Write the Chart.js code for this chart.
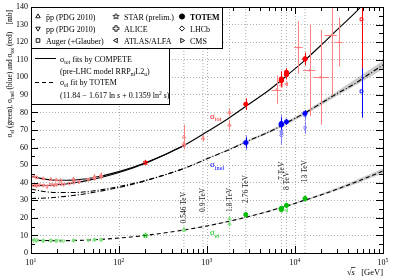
<!DOCTYPE html>
<html>
<head>
<meta charset="utf-8">
<script src="https://cdn.jsdelivr.net/npm/chart.js@4.4.0/dist/chart.umd.min.js"></script>
<style>
html, body { margin: 0; padding: 0; background: #fff; }
</style>
</head>
<body>
<canvas id="c" width="395" height="280" style="width:395px;height:280px"></canvas>
<script>
// ---- fit curves ----
const fitX = [10, 15, 20, 30, 50, 100, 200, 546, 1000, 1800, 2760, 5000, 7000, 8000, 13000, 20000, 30000, 50000, 60000, 100000];
const totFit = [43.7, 41.9, 41.4, 41.5, 42.8, 46.3, 51.3, 61.2, 69.0, 77.0, 83.5, 92.5, 98.3, 100.8, 109.8, 118.5, 127.0, 137.5, 141.8, 153.7];
const inelFit = [36.4, 34.8, 34.4, 34.4, 35.3, 37.8, 41.3, 48.1, 53.6, 58.9, 63.2, 68.8, 72.4, 74.1, 79.7, 85.4, 90.7, 97.0, 99.7, 107.0];
const elFit = [7.3, 7.1, 7.0, 7.1, 7.5, 8.5, 10.0, 13.1, 15.4, 18.1, 20.3, 23.7, 25.9, 26.7, 30.1, 33.1, 36.3, 40.5, 42.1, 46.7];
// pp branch at low energy
const ppFitX = [10, 15, 20, 30, 50, 100, 200, 546];
const ppTotFit = [38.3, 38.4, 38.8, 39.8, 41.9, 45.8, 51.1, 61.1];
const ppInelFit = [31.0, 31.3, 31.8, 32.7, 34.4, 37.3, 41.1, 48.0];
// uncertainty bands
const bandX = [546, 1000, 2760, 7000, 13000, 30000, 100000];
const inelHi = [48.2, 53.95, 63.8, 73.2, 80.7, 92.1, 109.4];
const inelLo = [47.9, 53.25, 62.6, 71.6, 78.7, 89.3, 104.6];
const elHi = [13.15, 15.6, 20.6, 26.3, 30.6, 37.1, 48.1];
const elLo = [13.0, 15.2, 20.0, 25.5, 29.6, 35.5, 45.3];

// ---- sigma_tot data ----
const pbarpTotX = [10.8, 11.6, 13.8, 16.8, 19.4, 21.7, 30.4, 52.6, 62.3, 546, 546, 546, 900, 1800, 1800];
const pbarpTotY = [43.6, 42.9, 42.3, 41.9, 41.6, 41.4, 42.1, 43.3, 44.1, 61.3, 62.2, 66.0, 65.3, 72.8, 80.0];
const pbarpTotE = [0.8, 0.8, 0.6, 0.5, 0.5, 0.6, 0.9, 1.5, 1.8, 0.9, 1.5, 7.0, 1.7, 3.1, 2.2];
const ppTotX = [10.7, 11.5, 12.3, 13.8, 15.2, 16.8, 18.2, 19.4, 21.7, 23.5, 27.4, 30.6, 35, 44.7, 52.8, 62.7];
const ppTotY = [38.6, 38.2, 38.7, 38.5, 37.9, 38.9, 38.6, 38.9, 39.3, 39.0, 39.6, 40.1, 40.5, 41.8, 42.4, 43.6];
const ppTotE = [0.9, 1.0, 0.8, 0.7, 1.2, 0.6, 0.9, 0.6, 1.0, 0.4, 0.5, 0.4, 0.8, 0.5, 0.6, 1.8];
const cosmicTotX = [6200, 10900, 14700, 19500, 26000, 31800];
const cosmicTotY = [93, 117, 104, 100, 124, 120];
const cosmicTotE = [8, 15, 26, 27, 34, 14];
const cosmicTotXLo = [5400, 9800, 12300, 16200, 21700, 28500];
const cosmicTotXHi = [7000, 12200, 17000, 24500, 29800, 34500];
const starTotX = [200], starTotY = [51.5], starTotE = [1.2];
const totemTotX = [2760, 7000, 7000, 7000, 7000, 8000, 8000, 8000, 13000, 13000];
const totemTotY = [84.7, 98.3, 98.6, 99.1, 98.0, 101.7, 101.5, 102.9, 110.6, 110.3];
const totemTotE = [3.3, 2.8, 2.2, 4.3, 2.5, 2.9, 2.1, 2.3, 3.4, 3.5];
const atlasTotX = [7000, 8000], atlasTotY = [95.4, 96.1], atlasTotE = [1.4, 0.9];
const augerTotX = [57000], augerTotY = [133], augerTotLo = [35], augerTotHi = [29];

// ---- sigma_inel data ----
const totemInelX = [2760, 7000, 7000, 7000, 8000, 13000];
const totemInelY = [62.8, 73.2, 72.9, 73.7, 74.7, 79.5];
const totemInelE = [2.9, 1.3, 1.5, 3.4, 1.7, 1.8];
const aliceInelX = [2760, 7000], aliceInelY = [62.8, 73.2], aliceInelE = [4.2, 5.3];
const atlasInelX = [7000, 13000], atlasInelY = [69.4, 78.1], atlasInelE = [7.3, 2.9];
const cmsInelX = [7000, 13000], cmsInelY = [68.0, 71.3], cmsInelE = [5.0, 3.5];
const lhcbInelX = [7000], lhcbInelY = [66.9], lhcbInelE = [5.3];
const augerInelX = [57000], augerInelY = [92], augerInelLo = [15], augerInelHi = [13];

// ---- sigma_el data ----
const ppElX = [10.7, 11.5, 13.8, 16.8, 19.4, 21.7, 23.5, 30.6, 44.7, 52.8, 62.7];
const ppElY = [7.0, 6.8, 6.9, 7.0, 7.0, 6.9, 6.8, 7.1, 7.3, 7.5, 7.6];
const ppElE = [0.3, 0.3, 0.3, 0.2, 0.2, 0.3, 0.2, 0.2, 0.3, 0.3, 0.4];
const pbarpElX = [10.8, 11.7, 13.8, 16.8, 19.4, 30.4, 52.6, 62.3, 546, 546, 1800, 1800];
const pbarpElY = [7.7, 7.3, 7.0, 7.1, 6.9, 7.2, 7.5, 7.5, 13.6, 12.9, 16.6, 19.7];
const pbarpElE = [0.4, 0.4, 0.3, 0.3, 0.3, 0.3, 0.4, 0.4, 0.6, 0.3, 1.6, 0.9];
const starElX = [200], starElY = [10.0], starElE = [0.3];
const totemElX = [2760, 7000, 7000, 7000, 8000, 13000];
const totemElY = [21.8, 25.4, 25.1, 24.8, 27.1, 31.0];
const totemElE = [1.4, 1.1, 1.1, 1.2, 1.4, 1.7];
const atlasElX = [7000, 8000], atlasElY = [24.0, 24.3], atlasElE = [0.6, 0.4];

// ---- energies marked with vertical lines ----
const energyX = [546, 900, 1800, 2760, 7000, 8000, 13000];
const energyLabels = ['0.546 TeV', '0.9 TeV', '1.8 TeV', '2.76 TeV', '7 TeV', '8 TeV', '13 TeV'];

const yTicks = [0, 10, 20, 30, 40, 50, 60, 70, 80, 90, 100, 110, 120, 130, 140];
const xDecades = [1, 2, 3, 4, 5];

const SERIF = '"Liberation Serif", "DejaVu Serif", serif';
const RED = '#ff0000', RED_PALE = '#ff8080';
const BLUE = '#0000ff', BLUE_PALE = '#8080ff';
const GREEN = '#00c000', GREEN_PALE = '#80dd80';

function curve(xs, ys) { return xs.map((x, i) => ({ x: x, y: ys[i] })); }
function pts(xs, ys, lo, hi, xlo, xhi) {
    return xs.map((x, i) => ({
        x: x, y: ys[i],
        lo: ys[i] - lo[i], hi: ys[i] + (hi ? hi[i] : lo[i]),
        xlo: xlo ? xlo[i] : null, xhi: xhi ? xhi[i] : null
    }));
}

// custom markers
function starImage(color, r) {
    const s = Math.ceil(r * 2 + 3);
    const c = document.createElement('canvas');
    c.width = c.height = s;
    const g = c.getContext('2d');
    g.beginPath();
    for (let i = 0; i < 10; i++) {
        const rr = i % 2 ? r * 0.45 : r;
        const a = -Math.PI / 2 + i * Math.PI / 5;
        g.lineTo(s / 2 + rr * Math.cos(a), s / 2 + rr * Math.sin(a));
    }
    g.closePath();
    g.strokeStyle = color; g.lineWidth = 0.9; g.stroke();
    return c;
}
function openCross(color, r) {
    const s = Math.ceil(r * 2 + 3);
    const c = document.createElement('canvas');
    c.width = c.height = s;
    const g = c.getContext('2d');
    const m = s / 2, w = r * 0.38;
    const p = [[-w, -r], [w, -r], [w, -w], [r, -w], [r, w], [w, w], [w, r], [-w, r], [-w, w], [-r, w], [-r, -w], [-w, -w]];
    g.beginPath();
    p.forEach(q => g.lineTo(m + q[0], m + q[1]));
    g.closePath();
    g.strokeStyle = color; g.lineWidth = 0.9; g.stroke();
    return c;
}

function marks(data, color, style, opts) {
    return Object.assign({
        type: 'scatter', data: data, showLine: false,
        borderColor: color, backgroundColor: 'rgba(0,0,0,0)',
        pointStyle: style, pointRadius: 2, pointBorderWidth: 0.9,
        errorBars: true, order: 10
    }, opts || {});
}
function fitLine(data, dash, order) {
    return {
        type: 'line', data: data, borderColor: '#000', borderWidth: 1.1,
        borderDash: dash, pointRadius: 0, fill: false,
        cubicInterpolationMode: 'monotone', order: order
    };
}

const datasets = [];
// vertical energy lines
energyX.forEach(e => datasets.push({
    type: 'line', data: [{ x: e, y: 0 }, { x: e, y: 140 }],
    borderColor: '#a8a8a8', borderWidth: 1, borderDash: [1, 2],
    pointRadius: 0, fill: false, order: 60
}));
// bands
datasets.push({ type: 'line', data: curve(bandX, inelHi), borderWidth: 0, pointRadius: 0, fill: '+1', backgroundColor: 'rgba(0,0,0,0.2)', cubicInterpolationMode: 'monotone', order: 50 });
datasets.push({ type: 'line', data: curve(bandX, inelLo), borderWidth: 0, pointRadius: 0, fill: false, cubicInterpolationMode: 'monotone', order: 50 });
datasets.push({ type: 'line', data: curve(bandX, elHi), borderWidth: 0, pointRadius: 0, fill: '+1', backgroundColor: 'rgba(0,0,0,0.2)', cubicInterpolationMode: 'monotone', order: 50 });
datasets.push({ type: 'line', data: curve(bandX, elLo), borderWidth: 0, pointRadius: 0, fill: false, cubicInterpolationMode: 'monotone', order: 50 });
// fits
datasets.push(fitLine(curve(fitX, totFit), [], 30));
datasets.push(fitLine(curve(ppFitX, ppTotFit), [], 30));
datasets.push(fitLine(curve(fitX, inelFit), [5, 2, 1, 2], 30));
datasets.push(fitLine(curve(ppFitX, ppInelFit), [5, 2, 1, 2], 30));
datasets.push(fitLine(curve(fitX, elFit), [4, 3], 30));
// sigma_el points
datasets.push(marks(pts(ppElX, ppElY, ppElE), GREEN_PALE, 'triangle', { pointRotation: 180 }));
datasets.push(marks(pts(pbarpElX, pbarpElY, pbarpElE), GREEN_PALE, 'triangle'));
datasets.push(marks(pts(starElX, starElY, starElE), GREEN, starImage(GREEN, 2.6)));
datasets.push(marks(pts(atlasElX, atlasElY, atlasElE), GREEN_PALE, 'triangle', { pointRotation: 270 }));
datasets.push(marks(pts(totemElX, totemElY, totemElE), GREEN, 'circle', { backgroundColor: GREEN, pointRadius: 2.1, order: 0 }));
// sigma_inel points
datasets.push(marks(pts(aliceInelX, aliceInelY, aliceInelE), BLUE_PALE, openCross(BLUE_PALE, 2.5)));
datasets.push(marks(pts(atlasInelX, atlasInelY, atlasInelE), BLUE_PALE, 'triangle', { pointRotation: 270 }));
datasets.push(marks(pts(cmsInelX, cmsInelY, cmsInelE), BLUE_PALE, 'triangle', { pointRotation: 90 }));
datasets.push(marks(pts(lhcbInelX, lhcbInelY, lhcbInelE), BLUE_PALE, 'rectRot'));
datasets.push(marks(pts(augerInelX, augerInelY, augerInelLo, augerInelHi), BLUE, 'rect', { pointRadius: 2 }));
datasets.push(marks(pts(totemInelX, totemInelY, totemInelE), BLUE, 'circle', { backgroundColor: BLUE, pointRadius: 2.1, order: 0 }));
// sigma_tot points
datasets.push(marks(pts(ppTotX, ppTotY, ppTotE), RED_PALE, 'triangle', { pointRotation: 180 }));
datasets.push(marks(pts(pbarpTotX, pbarpTotY, pbarpTotE), RED_PALE, 'triangle'));
datasets.push(marks(pts(cosmicTotX, cosmicTotY, cosmicTotE, null, cosmicTotXLo, cosmicTotXHi), RED_PALE, 'triangle', { pointRadius: 1.3 }));
datasets.push(marks(pts(starTotX, starTotY, starTotE), RED, starImage(RED, 2.6)));
datasets.push(marks(pts(atlasTotX, atlasTotY, atlasTotE), RED_PALE, 'triangle', { pointRotation: 270 }));
datasets.push(marks(pts(augerTotX, augerTotY, augerTotLo, augerTotHi), RED, 'rect', { pointRadius: 2 }));
datasets.push(marks(pts(totemTotX, totemTotY, totemTotE), RED, 'circle', { backgroundColor: RED, pointRadius: 2.1, order: 0 }));

// text with sub/superscripts: kind 0 normal, 1 sub, 2 sup, 3 italic, 4 bold
function richText(ctx, segs, x, y, size, draw) {
    let cx = x;
    segs.forEach(([t, k]) => {
        const s = (k === 1 || k === 2) ? size * 0.7 : size;
        ctx.font = (k === 3 ? 'italic ' : k === 4 ? 'bold ' : '') + s + 'px ' + SERIF;
        const dy = k === 1 ? size * 0.3 : (k === 2 ? -size * 0.4 : 0);
        if (draw) ctx.fillText(t, cx, y + dy);
        cx += ctx.measureText(t).width;
    });
    return cx - x;
}

function marker(ctx, style, rot, x, y, fill) {
    ctx.save();
    ctx.strokeStyle = '#000';
    ctx.fillStyle = fill ? '#000' : '#fff';
    ctx.lineWidth = 0.9;
    Chart.helpers.drawPoint(ctx, { pointStyle: style, rotation: rot, radius: 2.6, borderWidth: 0.9 }, x, y);
    ctx.restore();
}

const errorBars = {
    id: 'errorBars',
    beforeDatasetDraw(chart, args) {
        const ds = chart.data.datasets[args.index];
        if (!ds.errorBars) return;
        const { ctx, chartArea: a, scales: { x, y } } = chart;
        ctx.save();
        ctx.beginPath();
        ctx.rect(a.left, a.top, a.right - a.left, a.bottom - a.top);
        ctx.clip();
        ctx.strokeStyle = ds.borderColor;
        ctx.lineWidth = 1;
        ctx.beginPath();
        ds.data.forEach(p => {
            const px = Math.round(x.getPixelForValue(p.x)) + 0.5;
            const py = Math.round(y.getPixelForValue(p.y)) + 0.5;
            ctx.moveTo(px, y.getPixelForValue(p.lo));
            ctx.lineTo(px, y.getPixelForValue(p.hi));
            if (p.xlo) {
                ctx.moveTo(x.getPixelForValue(p.xlo), py);
                ctx.lineTo(x.getPixelForValue(p.xhi), py);
            }
        });
        ctx.stroke();
        ctx.restore();
    }
};

const decor = {
    id: 'decor',
    afterDatasetsDraw(chart) {
        const { ctx, chartArea: a, scales: { x, y } } = chart;
        ctx.save();
        ctx.textAlign = 'left';
        ctx.textBaseline = 'alphabetic';

        // energy labels (rotated)
        const labelStart = [16.8, 23.4, 23.4, 28.5, 41.5, 35.8, 40.3];
        ctx.fillStyle = '#222';
        ctx.font = '7.5px ' + SERIF;
        energyX.forEach((e, i) => {
            ctx.save();
            ctx.translate(x.getPixelForValue(e) + 0.5, y.getPixelForValue(labelStart[i]));
            ctx.rotate(-Math.PI / 2);
            ctx.textBaseline = 'middle';
            ctx.fillText(energyLabels[i], 0, 0);
            ctx.restore();
        });

        // curve labels
        ctx.fillStyle = RED;
        richText(ctx, [['σ', 0], ['tot', 1]], x.getPixelForValue(1080), y.getPixelForValue(76.5), 9, true);
        ctx.fillStyle = BLUE;
        richText(ctx, [['σ', 0], ['inel', 1]], x.getPixelForValue(1080), y.getPixelForValue(49), 9, true);
        ctx.fillStyle = GREEN;
        richText(ctx, [['σ', 0], ['el', 1]], x.getPixelForValue(1080), y.getPixelForValue(10), 9, true);

        // ticks on all four sides
        ctx.strokeStyle = '#000';
        ctx.lineWidth = 1;
        ctx.beginPath();
        for (let v = 0; v <= 140; v += 5) {
            const py = Math.round(y.getPixelForValue(v)) + 0.5;
            const len = v % 10 === 0 ? 7 : 4;
            ctx.moveTo(a.left, py); ctx.lineTo(a.left + len, py);
            ctx.moveTo(a.right, py); ctx.lineTo(a.right - len, py);
        }
        for (let d = 1; d <= 5; d++) {
            for (let m = 1; m <= 9; m++) {
                if (d === 5 && m > 1) break;
                const px = Math.round(x.getPixelForValue(m * Math.pow(10, d))) + 0.5;
                const len = m === 1 ? 7 : 4;
                ctx.moveTo(px, a.bottom); ctx.lineTo(px, a.bottom - len);
                ctx.moveTo(px, a.top); ctx.lineTo(px, a.top + len);
            }
        }
        ctx.stroke();

        // legend box 1
        ctx.fillStyle = '#fff';
        ctx.fillRect(a.left, a.top, 191, 41);
        ctx.strokeRect(a.left + 0.5, a.top + 0.5, 191, 41);
        // legend box 2
        ctx.fillRect(a.left, a.top + 41, 138, 56);
        ctx.strokeRect(a.left + 0.5, a.top + 41.5, 138, 56);

        const rows = [a.top + 9.5, a.top + 21.5, a.top + 33.5];
        const cols = [a.left + 7, a.left + 85, a.left + 151];
        const entries = [
            [0, 0, 'triangle', 0, false, [['p\u0304p (PDG 2010)', 0]]],
            [0, 1, 'triangle', 180, false, [['pp (PDG 2010)', 0]]],
            [0, 2, 'rect', 0, false, [['Auger (+Glauber)', 0]]],
            [1, 0, starImage('#000', 3), 0, false, [['STAR (prelim.)', 0]]],
            [1, 1, openCross('#000', 2.8), 0, false, [['ALICE', 0]]],
            [1, 2, 'triangle', 270, false, [['ATLAS/ALFA', 0]]],
            [2, 0, 'circle', 0, true, [['TOTEM', 4]]],
            [2, 1, 'rectRot', 0, false, [['LHCb', 0]]],
            [2, 2, 'triangle', 90, false, [['CMS', 0]]]
        ];
        entries.forEach(([c, r, st, rot, fill, segs]) => {
            marker(ctx, st, rot, cols[c], rows[r], fill);
            ctx.fillStyle = '#000';
            richText(ctx, segs, cols[c] + 8, rows[r] + 3, 8, true);
        });

        ctx.fillStyle = '#000';
        const tx = a.left + 29;
        ctx.beginPath();
        ctx.moveTo(a.left + 4, a.top + 51.5); ctx.lineTo(a.left + 25, a.top + 51.5);
        ctx.stroke();
        richText(ctx, [['σ', 0], ['tot', 1], [' fits by COMPETE', 0]], tx, a.top + 54.5, 8, true);
        richText(ctx, [['(pre-LHC model RRP', 0], ['nf', 1], ['L2', 0], ['u', 1], [')', 0]], tx, a.top + 66.5, 8, true);
        ctx.save();
        ctx.setLineDash([4, 3]);
        ctx.beginPath();
        ctx.moveTo(a.left + 4, a.top + 75.5); ctx.lineTo(a.left + 25, a.top + 75.5);
        ctx.stroke();
        ctx.restore();
        richText(ctx, [['σ', 0], ['el', 1], [' fit by TOTEM', 0]], tx, a.top + 78, 8, true);
        richText(ctx, [['(11.84 \u2212 1.617 ln ', 0], ['s', 3], [' + 0.1359 ln', 0], ['2', 2], [' ', 0], ['s', 3], [')', 0]], tx, a.top + 91, 8, true);

        // frame
        ctx.strokeStyle = '#000';
        ctx.strokeRect(a.left + 0.5, a.top + 0.5, a.right - a.left, a.bottom - a.top);

        // y tick labels
        ctx.fillStyle = '#000';
        ctx.font = '8px ' + SERIF;
        ctx.textAlign = 'right';
        ctx.textBaseline = 'middle';
        yTicks.forEach(v => ctx.fillText(String(v), a.left - 3, y.getPixelForValue(v)));

        // x tick labels 10^n
        ctx.textAlign = 'left';
        ctx.textBaseline = 'alphabetic';
        xDecades.forEach(d => {
            const segs = [['10', 0], [String(d), 2]];
            const w = richText(ctx, segs, 0, 0, 8, false);
            richText(ctx, segs, x.getPixelForValue(Math.pow(10, d)) - w / 2, a.bottom + 12, 8, true);
        });

        // x title
        const xt = [['\u221A', 0], ['s', 3], ['   [GeV]', 0]];
        const xw = richText(ctx, xt, 0, 0, 8.5, false);
        const x0 = a.right - xw;
        richText(ctx, xt, x0, a.bottom + 22, 8.5, true);
        ctx.font = '8.5px ' + SERIF;
        const rw = ctx.measureText('\u221A').width;
        ctx.font = 'italic 8.5px ' + SERIF;
        const sw = ctx.measureText('s').width;
        ctx.lineWidth = 0.7;
        ctx.beginPath();
        ctx.moveTo(x0 + rw - 0.5, a.bottom + 14.5); ctx.lineTo(x0 + rw + sw + 0.5, a.bottom + 14.5);
        ctx.stroke();

        // y title, rotated, ending at the top
        const yt = [['σ', 0], ['el', 1], [' (green), ', 0], ['σ', 0], ['inel', 1], [' (blue) and ', 0], ['σ', 0], ['tot', 1], [' (red)    [mb]', 0]];
        const ysz = 7.4;
        const yw = richText(ctx, yt, 0, 0, ysz, false);
        ctx.save();
        ctx.translate(9, a.top + 3);
        ctx.rotate(-Math.PI / 2);
        richText(ctx, yt, -yw, 3, ysz, true);
        ctx.restore();

        ctx.restore();
    }
};

new Chart(document.getElementById('c'), {
    type: 'scatter',
    data: { datasets: datasets },
    options: {
        responsive: false,
        devicePixelRatio: 1,
        animation: false,
        events: [],
        layout: { padding: { left: 31, right: 12, top: 7, bottom: 27 } },
        plugins: { legend: { display: false }, tooltip: { enabled: false } },
        scales: {
            x: {
                type: 'logarithmic', min: 10, max: 100000,
                afterFit: s => { s.height = 0; },
                ticks: { display: false },
                grid: {
                    drawTicks: false,
                    color: c => {
                        const v = c.tick ? c.tick.value : 0;
                        const l = Math.log10(v);
                        return (v > 10 && v < 100000 && Math.abs(l - Math.round(l)) < 1e-6) ? '#b0b0b0' : 'rgba(0,0,0,0)';
                    }
                },
                border: { display: false, dash: [1, 2] }
            },
            y: {
                min: 0, max: 140,
                afterFit: s => { s.width = 0; },
                ticks: { display: false, stepSize: 10 },
                grid: { drawTicks: false, color: '#b0b0b0' },
                border: { display: false, dash: [1, 2] }
            }
        }
    },
    plugins: [errorBars, decor]
});
</script>
</body>
</html>
